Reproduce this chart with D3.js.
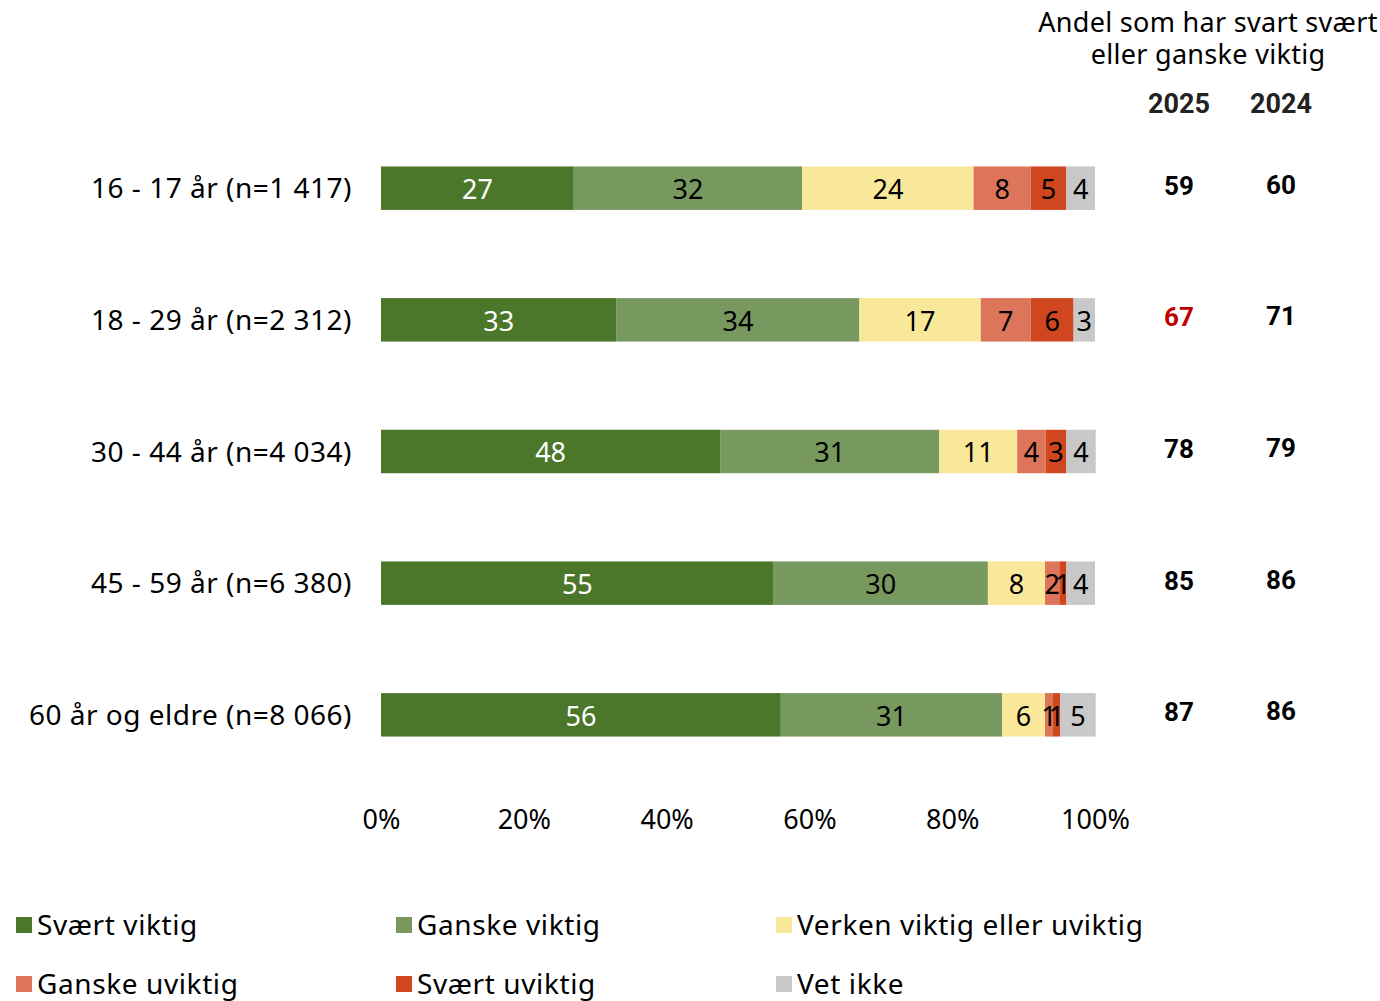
<!DOCTYPE html>
<html><head><meta charset="utf-8">
<script src="https://cdn.jsdelivr.net/npm/d3@7"></script>
<style>
body{margin:0;background:#fff;}
svg{display:block;}
</style></head>
<body>
<svg id="chart" width="1380" height="1001"></svg>
<script>
const categories = ["16 - 17 år (n=1 417)","18 - 29 år (n=2 312)","30 - 44 år (n=4 034)","45 - 59 år (n=6 380)","60 år og eldre (n=8 066)"];
const seriesNames = ["Svært viktig","Ganske viktig","Verken viktig eller uviktig","Ganske uviktig","Svært uviktig","Vet ikke"];
const svaertViktig   = [27, 33, 47.5, 55, 56];
const ganskeViktig   = [32, 34, 30.7, 30, 31];
const verken         = [24, 17, 10.9, 8, 6];
const ganskeUviktig  = [8, 7, 4.0, 2, 1.1];
const svaertUviktig  = [5, 6, 2.9, 1, 1];
const vetIkke        = [4, 3, 4.1, 4, 5];
const share2025 = [59, 67, 78, 85, 87];
const share2024 = [60, 71, 79, 86, 86];
const xTicks = [0, 20, 40, 60, 80, 100];
const colors = ["#4a7729","#77985f","#fae89a","#dd755b","#d0461f","#c8c8c8"];

const series = [svaertViktig, ganskeViktig, verken, ganskeUviktig, svaertUviktig, vetIkke];
const FONT = "'Century Gothic','Noto Sans',sans-serif";
const BOLD = "Roboto, 'Liberation Sans', sans-serif";

const svg = d3.select("#chart");
const x = d3.scaleLinear().domain([0,100]).range([381,1095]);
const y = d3.scaleBand().domain(categories).range([123, 780]).paddingInner(0.67).paddingOuter(0.33);

const rows = categories.map((c,i)=>{
  let acc = 0;
  return series.map((s,k)=>{ const seg={cat:c,k,v:s[i],x0:acc,x1:acc+s[i]}; acc+=s[i]; return seg;});
});

const g = svg.append("g");
rows.forEach(row=>{
  const rg = g.append("g");
  rg.selectAll("rect").data(row).join("rect")
    .attr("x",d=>x(d.x0)).attr("width",d=>x(d.x1)-x(d.x0))
    .attr("y",d=>y(d.cat)).attr("height",y.bandwidth())
    .attr("fill",d=>colors[d.k]);
  rg.selectAll("text").data(row).join("text")
    .attr("x",d=>(x(d.x0)+x(d.x1))/2)
    .attr("y",d=>y(d.cat)+y.bandwidth()/2 + 1)
    .attr("dy","0.36em")
    .attr("text-anchor","middle")
    .attr("font-family",FONT).attr("font-size",27)
    .attr("fill",d=>d.k===0?"#fff":"#000")
    .text(d=>Math.round(d.v));
});

// category labels
svg.append("g").selectAll("text").data(categories).join("text")
  .attr("x",352).attr("y",d=>y(d)+y.bandwidth()/2).attr("dy","0.36em")
  .attr("text-anchor","end").attr("font-family",FONT).attr("font-size",28)
  .attr("letter-spacing","0.5px")
  .attr("fill","#000").text(d=>d);

// x axis
const xAxis = svg.append("g").attr("transform","translate(0,815)")
  .call(d3.axisBottom(x).tickValues(xTicks).tickFormat(d=>d+"%").tickSize(0).tickPadding(0));
xAxis.select(".domain").remove();
xAxis.selectAll("text").attr("font-family",FONT).attr("font-size",27).attr("fill","#000").attr("dy","0.5em");

// header
svg.append("text").attr("x",1208).attr("y",32).attr("text-anchor","middle")
  .attr("font-family",FONT).attr("font-size",27).attr("letter-spacing","0.3px").text("Andel som har svart svært");
svg.append("text").attr("x",1208).attr("y",64).attr("text-anchor","middle")
  .attr("font-family",FONT).attr("font-size",27).attr("letter-spacing","0.3px").text("eller ganske viktig");
const cols = [{x:1179,label:"2025",vals:share2025},{x:1281,label:"2024",vals:share2024}];
cols.forEach((c,ci)=>{
  svg.append("text").attr("x",c.x).attr("y",113).attr("text-anchor","middle")
    .attr("font-family",BOLD).attr("font-weight","bold").attr("font-size",27).attr("fill","#222").text(c.label);
  svg.append("g").selectAll("text").data(c.vals).join("text")
    .attr("x",c.x).attr("y",(d,i)=>y(categories[i])+y.bandwidth()/2 - (ci===1?4:3)).attr("dy","0.36em")
    .attr("text-anchor","middle").attr("font-family",BOLD).attr("font-weight","bold").attr("font-size",26)
    .attr("fill",(d,i)=>(ci===0 && i===1)?"#c00000":"#000").text(d=>d);
});

// legend
const legX = [16,396,776], legY = [925,984];
const lg = svg.append("g").selectAll("g").data(seriesNames).join("g")
  .attr("transform",(d,i)=>`translate(${legX[i%3]},${legY[Math.floor(i/3)]})`);
lg.append("rect").attr("x",0).attr("y",-8).attr("width",16).attr("height",16).attr("fill",(d,i)=>colors[i]);
lg.append("text").attr("x",21).attr("y",0).attr("dy","0.34em").attr("font-family",FONT).attr("font-size",28)
  .attr("letter-spacing","0.6px").attr("fill","#000").text(d=>d);
</script>
</body></html>
